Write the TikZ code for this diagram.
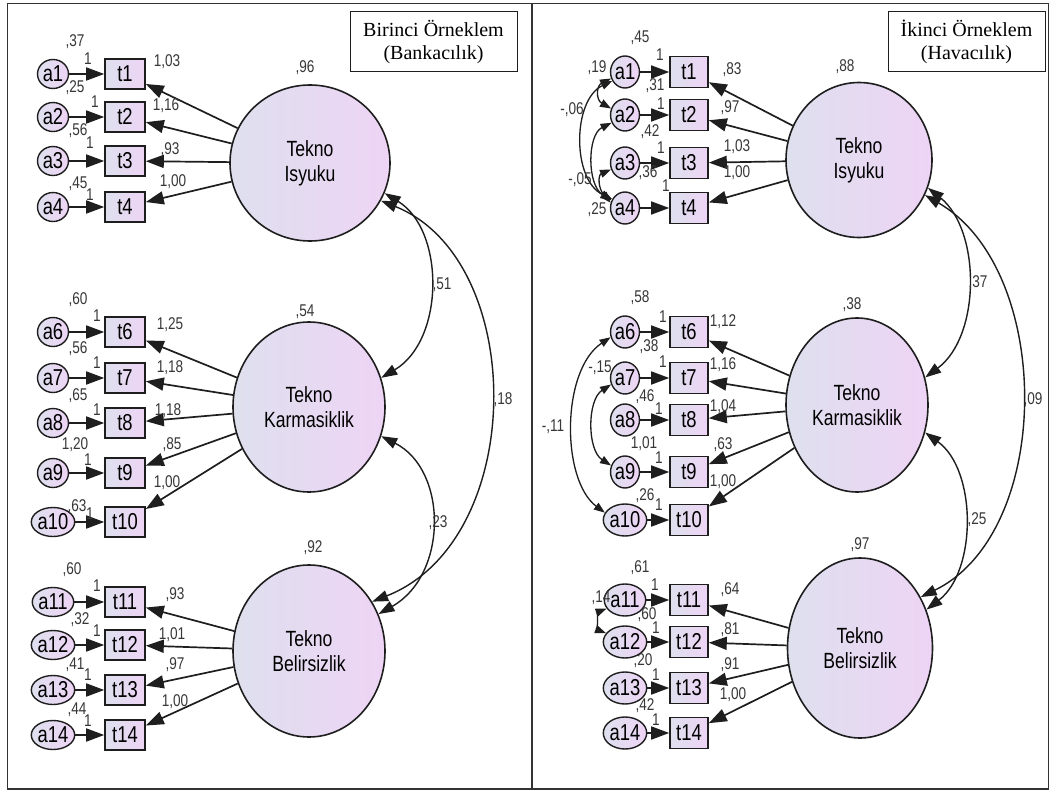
\documentclass[tikz,border=0pt]{standalone}
\usepackage{fontspec}
\setmainfont{Liberation Serif}
\newfontfamily\amos[FakeStretch=0.8]{Liberation Sans}
\usetikzlibrary{shapes.geometric,arrows.meta}
\definecolor{gl}{RGB}{222,224,238}
\definecolor{gr}{RGB}{238,212,245}
\definecolor{ink}{RGB}{30,30,30}
\definecolor{lab}{RGB}{55,55,55}
\begin{document}
\begin{tikzpicture}[x=1pt,y=-1pt,
  errL/.style={ellipse,draw=ink,line width=1.4pt,minimum width=31pt,minimum height=29pt,inner sep=0pt,left color=gl,right color=gr,font=\amos\fontsize{23}{23}\selectfont},
  errR/.style={errL,minimum width=27pt,minimum height=32pt},
  obsL/.style={rectangle,draw=ink,line width=1.6pt,minimum width=40pt,minimum height=30pt,inner sep=0pt,left color=gl,right color=gr,font=\amos\fontsize{23}{23}\selectfont},
  obsR/.style={obsL,minimum width=38pt,minimum height=31pt},
  lat/.style={ellipse,draw=ink,line width=1.6pt,inner sep=0pt,left color=gl,right color=gr,align=center,font=\amos\fontsize{22}{25}\selectfont},
  lbl/.style={inner sep=0pt,text=lab,font=\amos\fontsize{17}{17}\selectfont},
  arr/.style={-{Triangle[length=18pt,width=13pt]},line width=1.7pt,draw=ink},
  cov/.style={{Triangle[length=16pt,width=11pt]}-{Triangle[length=16pt,width=11pt]},line width=1.4pt,draw=ink},
  scov/.style={{Triangle[length=11pt,width=8pt]}-{Triangle[length=11pt,width=8pt]},line width=1.3pt,draw=ink},
  titlebox/.style={draw=ink,line width=1pt,minimum height=60pt,align=center,inner sep=0pt,font=\fontsize{20}{23}\selectfont}
]
\useasboundingbox (0,0) rectangle (1050,792);
\fill[white] (0,0) rectangle (1050,792);
\draw[line width=1.5pt,draw=black!80] (7.5,3.5) rectangle (1048.5,789);
\draw[line width=1.5pt,draw=black!80] (532,3.5) -- (532,789);

\node[titlebox,minimum width=167pt] (T1) at (433.5,42) {Birinci Örneklem\\(Bankacılık)};
\node[titlebox,minimum width=157pt] (T2) at (966.5,42) {İkinci Örneklem\\(Havacılık)};

% latent variables
\node[lat,minimum width=160pt,minimum height=156pt] (LI) at (310,163) {Tekno\\Isyuku};
\node[lat,minimum width=152pt,minimum height=170pt] (LK) at (309,407) {Tekno\\Karmasiklik};
\node[lat,minimum width=152pt,minimum height=172pt] (LB) at (309,651) {Tekno\\Belirsizlik};
\node[lat,minimum width=146pt,minimum height=155pt] (RI) at (859,160) {Tekno\\Isyuku};
\node[lat,minimum width=142pt,minimum height=174pt] (RK) at (857,405) {Tekno\\Karmasiklik};
\node[lat,minimum width=145pt,minimum height=180pt] (RB) at (860,648) {Tekno\\Belirsizlik};

% left panel indicators
\foreach \n/\y in {1/74,2/117,3/161,4/207,6/332,7/378,8/423,9/473,10/522,11/602,12/645,13/690,14/735} {
  \node[errL] (La\n) at (53,\y) {a\n};
  \node[obsL] (Lt\n) at (125,\y) {t\n};
  \draw[arr] (La\n) -- (Lt\n);
}
% right panel indicators
\foreach \n/\y in {1/72,2/115,3/163,4/208,6/332,7/378,8/420,9/472,10/520,11/600,12/642,13/688,14/733} {
  \node[errR] (Ra\n) at (625,\y) {a\n};
  \node[obsR] (Rt\n) at (689,\y) {t\n};
  \draw[arr] (Ra\n) -- (Rt\n);
}
\foreach \n in {1,2,3,4} {\draw[arr] (LI) -- (Lt\n); \draw[arr] (RI) -- (Rt\n);}
\foreach \n in {6,7,8,9,10} {\draw[arr] (LK) -- (Lt\n); \draw[arr] (RK) -- (Rt\n);}
\foreach \n in {11,12,13,14} {\draw[arr] (LB) -- (Lt\n); \draw[arr] (RB) -- (Rt\n);}

% latent covariances
\draw[cov] (LI.-22) .. controls (445,230) and (445,340) .. (LK.22);
\draw[cov] (LI.-28) .. controls (528,260) and (528,540) .. (LB.38);
\draw[cov] (LK.-22) .. controls (448,470) and (448,575) .. (LB.28);
\draw[cov] (RI.-22) .. controls (981,230) and (981,336) .. (RK.22);
\draw[cov] (RI.-28) .. controls (1054,270) and (1054,532) .. (RB.40);
\draw[cov] (RK.-22) .. controls (977,470) and (977,571) .. (RB.30);

% error covariances (right panel)
\draw[scov] (Ra1.205) .. controls (596,86) and (596,100) .. (Ra2.155);
\draw[scov] (Ra1.215) .. controls (572,100) and (572,180) .. (Ra4.145);
\draw[scov] (Ra2.210) .. controls (587,135) and (587,185) .. (Ra4.150);
\draw[scov] (Ra3.205) .. controls (598,175) and (598,188) .. (Ra4.160);
\draw[scov] (Ra6.200) .. controls (561,370) and (561,480) .. (Ra10.160);
\draw[scov] (Ra7.205) .. controls (587,400) and (587,450) .. (Ra9.155);
\draw[scov] (Ra11.205) .. controls (598,612) and (598,630) .. (Ra12.155);

% labels
\foreach \x/\y/\t [count=\i] in {
 75/42/{,37}, 88/59/{1}, 167/62/{1,03}, 75/88/{,25}, 95/102/{1}, 166/106/{1,16},
 78/131/{,56}, 90/143/{1}, 170/150/{,93}, 78/184/{,45}, 90/195/{1}, 173/182/{1,00},
 305/68/{,96},
 78/300/{,60}, 97/316/{1}, 170/325/{1,25}, 78/349/{,56}, 97/363/{1}, 170/368/{1,18},
 78/396/{,65}, 97/410/{1}, 168/411/{1,18}, 75/445/{1,20}, 88/460/{1}, 172/445/{,85},
 167/483/{1,00}, 77/507/{,63}, 90/514/{1}, 305/312/{,54},
 313/548/{,92}, 72/570/{,60}, 97/586/{1}, 175/595/{,93}, 80/620/{,32}, 97/631/{1},
 172/635/{1,01}, 75/665/{,41}, 88/675/{1}, 175/665/{,97}, 175/702/{1,00}, 77/710/{,44},
 88/721/{1}, 442/285/{,51}, 503/400/{,18}, 438/523/{,23}} {
  \node[lbl] (ll\i) at (\x,\y) {\t};
}
\foreach \x/\y/\t [count=\i] in {
 640/38/{,45}, 660/55/{1}, 732/70/{,83}, 597/68/{,19}, 655/86/{,31}, 661/104/{1},
 730/108/{,97}, 572/110/{-,06}, 650/132/{,42}, 661/148/{1}, 737/147/{1,03},
 580/180/{-,05}, 648/173/{,36}, 666/186/{1}, 737/173/{1,00}, 597/210/{,25}, 845/67/{,88},
 640/298/{,58}, 663/317/{1}, 723/322/{1,12}, 649/347/{,38}, 663/362/{1}, 723/365/{1,16},
 600/368/{-,15}, 645/397/{,46}, 659/409/{1}, 723/407/{1,04}, 553/427/{-,11},
 644/444/{1,01}, 659/458/{1}, 723/445/{,63}, 723/482/{1,00}, 645/496/{,26}, 659/505/{1},
 852/305/{,38}, 640/568/{,61}, 655/585/{1}, 730/590/{,64}, 601/598/{,14}, 647/615/{,60},
 656/628/{1}, 730/630/{,81}, 643/661/{,20}, 656/675/{1}, 730/665/{,91}, 733/695/{1,00},
 645/706/{,42}, 656/720/{1}, 860/545/{,97}, 978/283/{,37}, 1033/400/{,09}, 977/520/{,25}} {
  \node[lbl] (rl\i) at (\x,\y) {\t};
}
\end{tikzpicture}
\end{document}
